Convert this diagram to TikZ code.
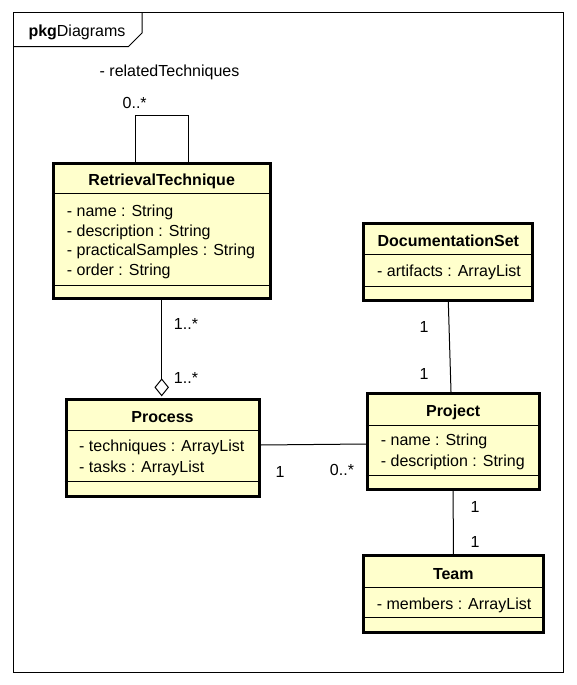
\documentclass[tikz,border=0pt]{standalone}
\usepackage{fontspec}
\setmainfont{Liberation Sans}
\usetikzlibrary{arrows.meta}
\definecolor{umlfill}{RGB}{255,255,204}
\tikzset{
  classbox/.style={draw, line width=3pt, fill=umlfill, inner sep=0pt},
  ctitle/.style={font=\bfseries\fontsize{16}{18}\selectfont, inner sep=0pt},
  cattr/.style={font=\fontsize{16}{18}\selectfont, inner sep=0pt, anchor=west},
  mult/.style={font=\fontsize{16}{18}\selectfont, inner sep=0pt},
  thin line/.style={line width=1pt},
}

\begin{document}
\begin{tikzpicture}[x=1pt, y=-1pt]
			%%%%% FRAME %%%%%
			\useasboundingbox (0,0) rectangle (577,685);
			\draw[thin line] (13,13) rectangle (563,672);
			\draw[thin line] (13,46.7) -- (128.3,46.7) -- (142,33) -- (142,13);
			\node[mult, anchor=west] (pkg) at (28.3,32.3) {\textbf{pkg}Diagrams};
			
			%%%%% CLASSES %%%%%
			\node[classbox, minimum width=216.7pt, minimum height=134.7pt] (rt) at (161.7,230.7) {};
			\draw[thin line] (rt.west |- 0,193.3) -- (rt.east |- 0,193.3);
			\draw[thin line] (rt.west |- 0,285) -- (rt.east |- 0,285);
			\node[ctitle] (rtname) at (161.7,181.2) {RetrievalTechnique};
			\node[cattr] (rta1) at (66.7,212.4) {- name : String};
			\node[cattr] (rta2) at (66.7,232) {- description : String};
			\node[cattr] (rta3) at (66.7,251.7) {- practicalSamples : String};
			\node[cattr] (rta4) at (66.7,271.4) {- order : String};
			
			\node[classbox, minimum width=193pt, minimum height=96.7pt] (pr) at (162.5,447.7) {};
			\draw[thin line] (pr.west |- 0,430) -- (pr.east |- 0,430);
			\draw[thin line] (pr.west |- 0,481.7) -- (pr.east |- 0,481.7);
			\node[ctitle] (prname) at (162.5,417.2) {Process};
			\node[cattr] (pra1) at (79,447.4) {- techniques : ArrayList};
			\node[cattr] (pra2) at (79,468.4) {- tasks : ArrayList};
			
			\node[classbox, minimum width=168.7pt, minimum height=76.7pt] (ds) at (448.3,261.7) {};
			\draw[thin line] (ds.west |- 0,254) -- (ds.east |- 0,254);
			\draw[thin line] (ds.west |- 0,286) -- (ds.east |- 0,286);
			\node[ctitle] (dsname) at (448.3,241.2) {DocumentationSet};
			\node[cattr] (dsa1) at (377,272.4) {- artifacts : ArrayList};
			
			\node[classbox, minimum width=171.7pt, minimum height=96pt] (pj) at (453.2,441.3) {};
			\draw[thin line] (pj.west |- 0,425) -- (pj.east |- 0,425);
			\draw[thin line] (pj.west |- 0,475.7) -- (pj.east |- 0,475.7);
			\node[ctitle] (pjname) at (453.2,412.2) {Project};
			\node[cattr] (pja1) at (380.7,441.7) {- name : String};
			\node[cattr] (pja2) at (380.7,462.4) {- description : String};
			
			\node[classbox, minimum width=180pt, minimum height=76.7pt] (tm) at (453.3,594.3) {};
			\draw[thin line] (tm.west |- 0,587.3) -- (tm.east |- 0,587.3);
			\draw[thin line] (tm.west |- 0,617.3) -- (tm.east |- 0,617.3);
			\node[ctitle] (tmname) at (453.3,574.5) {Team};
			\node[cattr] (tma1) at (376.7,605.7) {- members : ArrayList};
			
			%%%%% ASSOCIATIONS %%%%%
			\draw[thin line] ([xshift=-26.5pt]rt.north) -- ++(0,-46.3) -| ([xshift=26.5pt]rt.north);
			\draw[thin line, shorten >=1.5pt, -{Diamond[open, length=18pt, width=14.5pt]}] (rt.south) -- (rt.south |- pr.north);
			\draw[thin line] ([yshift=2.7pt]pr.east) -- ([yshift=-2.7pt]pj.west);
			\draw[thin line] (ds.south) -- ([xshift=-2.2pt]pj.north);
			\draw[thin line] (pj.south) -- (tm.north);
			
			\node[mult] (rtrole) at (169.5,72.2) {- relatedTechniques};
			\node[mult] (rtself) at (134.7,102.5) {0..*};
			\node[mult] (rtpr1) at (186,323.5) {1..*};
			\node[mult] (rtpr2) at (186,377.5) {1..*};
			\node[mult] (prpj1) at (280,472.2) {1};
			\node[mult] (prpj2) at (342,469.5) {0..*};
			\node[mult] (dspj1) at (424,327.2) {1};
			\node[mult] (dspj2) at (424,373.5) {1};
			\node[mult] (pjtm1) at (475,507.2) {1};
			\node[mult] (pjtm2) at (475,542.2) {1};
\end{tikzpicture}
\end{document}
